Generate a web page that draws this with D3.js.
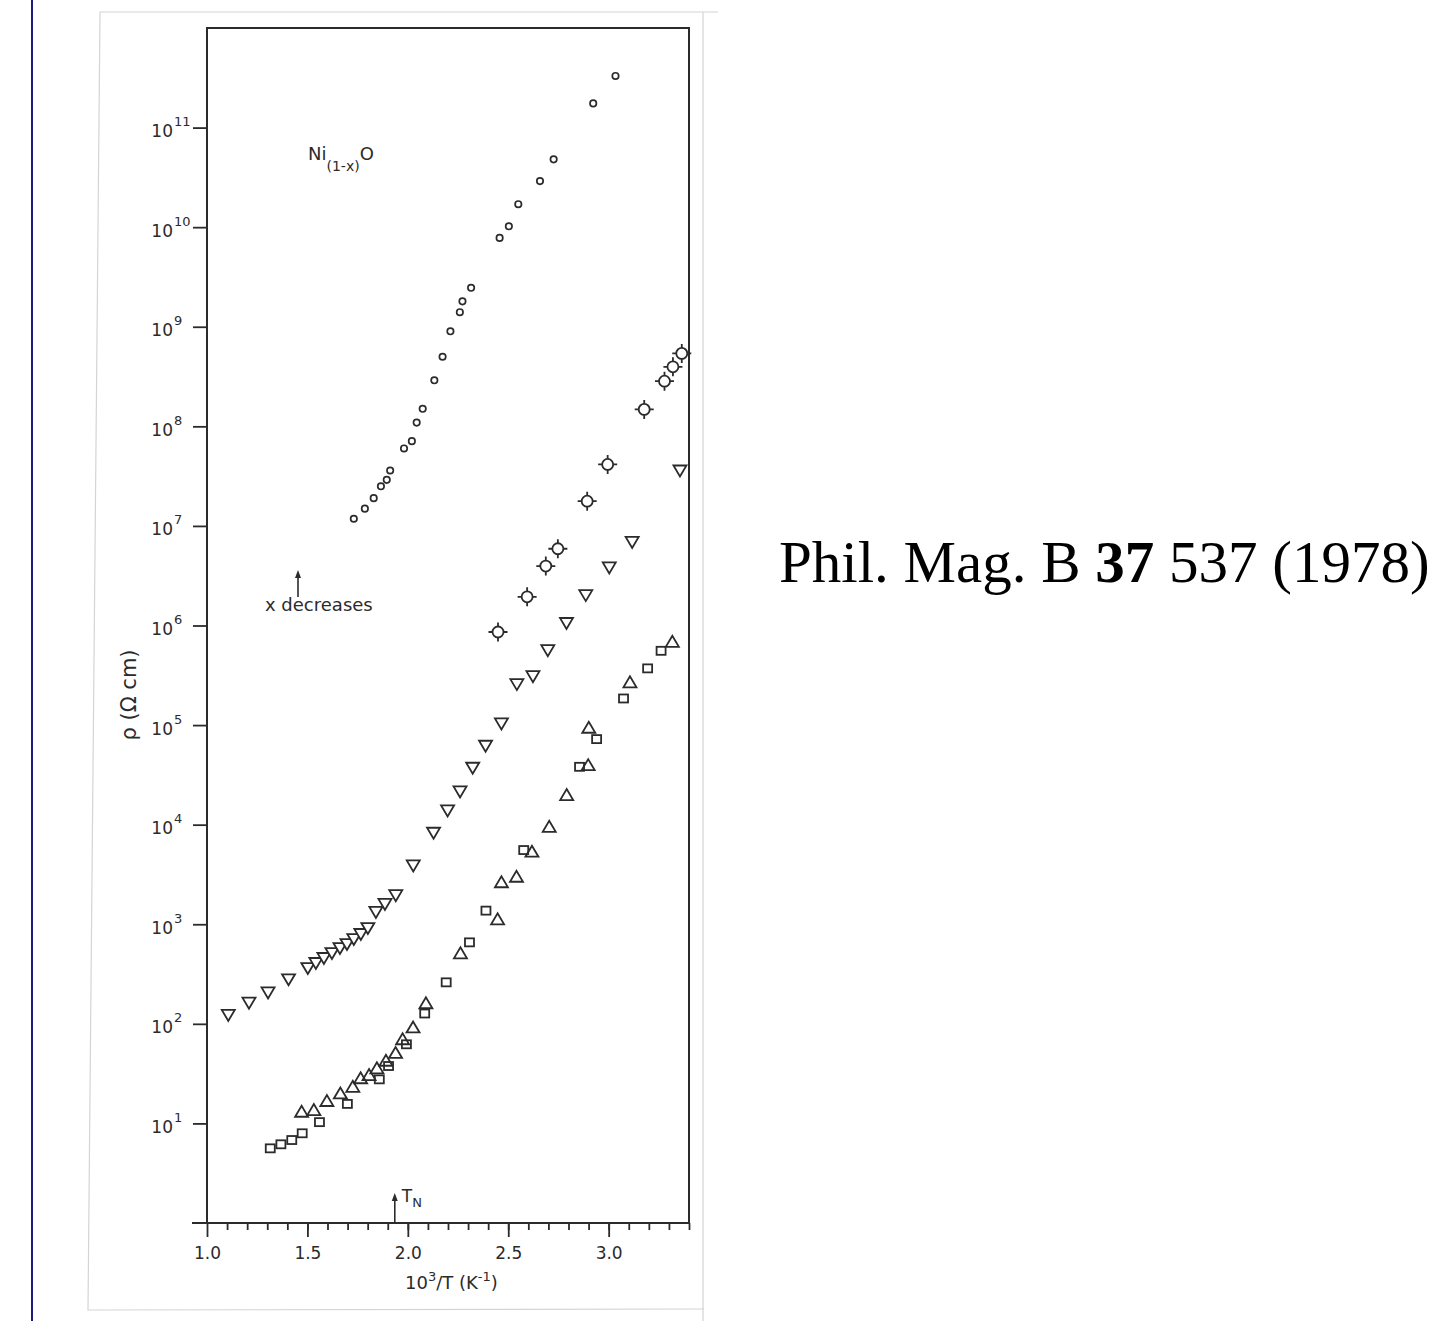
<!DOCTYPE html>
<html lang="en">
  <head>
    <meta charset="utf-8">
    <title>Ni(1-x)O resistivity</title>
    <script src="https://cdn.jsdelivr.net/npm/d3@7/dist/d3.min.js"></script>
    <style>
      body { margin: 0; background: #fff; }
    </style>
  </head>
  <body>
    <script>
      // Values: x = 10^3/T (K^-1), rho in ohm cm
      // small open circles (top series)
      var circX   = [1.731, 1.786, 1.830, 1.866, 1.895, 1.912, 1.981, 2.020, 2.044, 2.074, 2.132, 2.173,
                     2.212, 2.259, 2.272, 2.315, 2.457, 2.503, 2.550, 2.658, 2.726, 2.923, 3.034];
      var circRho = [1.18e7, 1.49e7, 1.9e7, 2.5e7, 2.9e7, 3.6e7, 6.0e7, 7.1e7, 1.09e8, 1.5e8, 2.9e8, 5.0e8,
                     9.0e8, 1.4e9, 1.8e9, 2.46e9, 7.8e9, 1.02e10, 1.7e10, 2.9e10, 4.8e10, 1.75e11, 3.3e11];
      // circles with ticks
      var crossX   = [2.449, 2.594, 2.687, 2.747, 2.893, 2.995, 3.177, 3.278, 3.320, 3.364];
      var crossRho = [8.6e5, 1.94e6, 3.95e6, 5.9e6, 1.77e7, 4.14e7, 1.48e8, 2.84e8, 3.96e8, 5.4e8];
      // downward triangles
      var downX   = [1.106, 1.209, 1.304, 1.406, 1.502, 1.542, 1.582, 1.622, 1.662, 1.697, 1.731, 1.766,
                     1.801, 1.841, 1.886, 1.940, 2.027, 2.128, 2.198, 2.260, 2.323, 2.387, 2.466, 2.543,
                     2.623, 2.697, 2.790, 2.886, 3.003, 3.117, 3.355];
      var downRho = [123, 163, 207, 280, 363, 408, 458, 514, 577, 633, 710, 798,
                     916, 1330, 1600, 1960, 3900, 8300, 13900, 21600, 37300, 62000, 104000, 258000,
                     310000, 566000, 1.06e6, 2.02e6, 3.83e6, 6.9e6, 3.6e7];
      // upward triangles
      var upX   = [1.471, 1.532, 1.597, 1.664, 1.726, 1.765, 1.807, 1.846, 1.891, 1.939, 1.974, 2.026,
                   2.090, 2.262, 2.447, 2.466, 2.541, 2.618, 2.704, 2.791, 2.898, 2.901, 3.106, 3.317];
      var upRho = [13.1, 13.6, 16.8, 20, 23.3, 28.4, 30.6, 35.7, 42.6, 51, 70, 92,
                   161, 510, 1120, 2640, 3000, 5350, 9500, 19800, 39600, 94000, 269000, 686000];
      // squares
      var sqX   = [1.315, 1.368, 1.422, 1.474, 1.560, 1.699, 1.858, 1.904, 1.993, 2.084, 2.191, 2.307,
                   2.389, 2.577, 2.855, 2.940, 3.074, 3.194, 3.261];
      var sqRho = [5.62, 6.17, 6.81, 7.96, 10.3, 15.7, 27.7, 37.7, 62.3, 127, 261, 658,
                   1370, 5560, 38100, 72300, 185000, 371000, 557000];

      var xMajor = [1.0, 1.5, 2.0, 2.5, 3.0];
      var xMinor = d3.range(11, 35).map(function(d) { return d / 10; });
      var yExp = [1, 2, 3, 4, 5, 6, 7, 8, 9, 10, 11];
      var tN = 1.935;

      var ink = "#2b2b2b";
      var font = "DejaVu Sans";

      var svg = d3.select("body").append("svg")
                  .attr("width", 1442)
                  .attr("height", 1321);

      // scan decorations
      svg.append("line").attr("x1", 32).attr("x2", 32).attr("y1", 0).attr("y2", 1321)
         .attr("stroke", "#1c1c78").attr("stroke-width", 2);
      svg.append("path").attr("d", "M718,12 L100,12 L88,1310 L704,1309 M703,12 L703,1321")
         .attr("fill", "none").attr("stroke", "#d4d4d4").attr("stroke-width", 1.2);

      // plot area
      var margin = {top: 28, left: 207};
      var width = 482, height = 1195;
      var g = svg.append("g")
                 .attr("transform", "translate(" + margin.left + "," + margin.top + ")");

      var x = d3.scaleLinear().domain([1.0, 3.4]).range([0, width]);
      var y = d3.scaleLog().domain([1, 1e12]).range([height, 0]);

      // x axis: minor then major ticks
      var xMinorG = g.append("g")
        .attr("transform", "translate(0," + height + ")")
        .call(d3.axisBottom(x).tickValues(xMinor).tickSize(7).tickFormat(""));
      var xMajorG = g.append("g")
        .attr("transform", "translate(0," + height + ")")
        .call(d3.axisBottom(x).tickValues(xMajor).tickSize(14).tickPadding(10)
              .tickFormat(d3.format(".1f")));
      var yG = g.append("g")
        .call(d3.axisLeft(y).tickValues(yExp.map(function(e) { return Math.pow(10, e); }))
              .tickSize(14).tickFormat(""));

      [xMinorG, xMajorG, yG].forEach(function(a) {
        a.select(".domain").remove();
        a.selectAll("line").attr("stroke", ink).attr("stroke-width", 1.8);
      });
      xMajorG.selectAll("text")
        .attr("font-family", font).attr("font-size", 17).attr("fill", ink);

      // y tick labels 10^n
      yG.selectAll(".tick").each(function(d) {
        var t = d3.select(this).append("text")
                  .attr("font-family", font).attr("fill", ink);
        t.append("tspan").attr("x", -34).attr("y", 9).attr("text-anchor", "end")
         .attr("font-size", 17).text("10");
        t.append("tspan").attr("x", -33).attr("y", -2).attr("text-anchor", "start")
         .attr("font-size", 13).text(Math.round(Math.log10(d)));
      });

      // frame
      g.append("rect").attr("x", 0).attr("y", 0).attr("width", width).attr("height", height)
       .attr("fill", "none").attr("stroke", ink).attr("stroke-width", 2);
      g.append("line").attr("x1", -15).attr("x2", 0).attr("y1", height).attr("y2", height)
       .attr("stroke", ink).attr("stroke-width", 2);

      // markers
      var mk = {stroke: ink, sw: 1.8};

      g.selectAll(".circ").data(d3.zip(circX, circRho)).enter()
        .append("circle").attr("class", "circ")
        .attr("cx", function(d) { return x(d[0]); })
        .attr("cy", function(d) { return y(d[1]); })
        .attr("r", 3.2)
        .attr("fill", "#fff").attr("stroke", mk.stroke).attr("stroke-width", 1.7);

      var cross = g.selectAll(".cross").data(d3.zip(crossX, crossRho)).enter()
        .append("g").attr("class", "cross")
        .attr("transform", function(d) { return "translate(" + x(d[0]) + "," + y(d[1]) + ")"; });
      cross.append("circle").attr("r", 5.5)
        .attr("fill", "#fff").attr("stroke", mk.stroke).attr("stroke-width", mk.sw);
      cross.append("path").attr("d", "M0,-5.5V-9.5M0,5.5V9.5M-5.5,0H-9.5M5.5,0H9.5")
        .attr("stroke", mk.stroke).attr("stroke-width", mk.sw);

      g.selectAll(".down").data(d3.zip(downX, downRho)).enter()
        .append("path").attr("class", "down")
        .attr("transform", function(d) { return "translate(" + x(d[0]) + "," + y(d[1]) + ")"; })
        .attr("d", "M-6.5,-5H6.5L0,6Z")
        .attr("fill", "#fff").attr("stroke", mk.stroke).attr("stroke-width", mk.sw);

      g.selectAll(".up").data(d3.zip(upX, upRho)).enter()
        .append("path").attr("class", "up")
        .attr("transform", function(d) { return "translate(" + x(d[0]) + "," + y(d[1]) + ")"; })
        .attr("d", "M-6.5,5H6.5L0,-6Z")
        .attr("fill", "none").attr("stroke", mk.stroke).attr("stroke-width", mk.sw);

      g.selectAll(".sq").data(d3.zip(sqX, sqRho)).enter()
        .append("rect").attr("class", "sq")
        .attr("x", function(d) { return x(d[0]) - 4.5; })
        .attr("y", function(d) { return y(d[1]) - 4; })
        .attr("width", 9).attr("height", 8)
        .attr("fill", "none").attr("stroke", mk.stroke).attr("stroke-width", mk.sw);

      // annotations
      var label = g.append("text").attr("x", 101).attr("y", 132)
                   .attr("font-family", font).attr("font-size", 18).attr("fill", ink);
      label.append("tspan").text("Ni");
      label.append("tspan").attr("dy", 11).attr("font-size", 14).text("(1-x)");
      label.append("tspan").attr("dy", -11).text("O");

      var arrow = function(x0, y0, y1) {
        g.append("line").attr("x1", x0).attr("x2", x0).attr("y1", y0).attr("y2", y1 + 6)
         .attr("stroke", ink).attr("stroke-width", 1.6);
        g.append("path").attr("d", "M" + (x0 - 3) + "," + (y1 + 8) + "L" + x0 + "," + y1 + "L" + (x0 + 3) + "," + (y1 + 8) + "Z")
         .attr("fill", ink);
      };

      arrow(91, 569, 542);
      g.append("text").attr("x", 58).attr("y", 583)
       .attr("font-family", font).attr("font-size", 18).attr("fill", ink)
       .text("x decreases");

      arrow(x(tN), height, height - 30);
      var tn = g.append("text").attr("x", x(tN) + 7).attr("y", height - 21)
                .attr("font-family", font).attr("font-size", 17).attr("fill", ink);
      tn.append("tspan").text("T");
      tn.append("tspan").attr("dy", 5).attr("font-size", 13).text("N");

      var xl = svg.append("text").attr("x", 405).attr("y", 1289)
                  .attr("font-family", font).attr("font-size", 18).attr("fill", ink);
      xl.append("tspan").text("10");
      xl.append("tspan").attr("dy", -8).attr("font-size", 13).text("3");
      xl.append("tspan").attr("dy", 8).text("/T (K");
      xl.append("tspan").attr("dy", -8).attr("font-size", 13).text("-1");
      xl.append("tspan").attr("dy", 8).text(")");

      svg.append("text")
         .attr("transform", "translate(136,695) rotate(-90)")
         .attr("text-anchor", "middle")
         .attr("font-family", font).attr("font-size", 21).attr("fill", ink)
         .text("ρ (Ω cm)");

      // citation
      var cite = svg.append("text").attr("x", 779).attr("y", 582)
                    .attr("font-family", "Liberation Serif").attr("font-size", 59).attr("fill", "#000");
      cite.append("tspan").text("Phil. Mag. B ");
      cite.append("tspan").attr("font-weight", "bold").text("37");
      cite.append("tspan").text(" 537 (1978)");
    </script>
  </body>
</html>
